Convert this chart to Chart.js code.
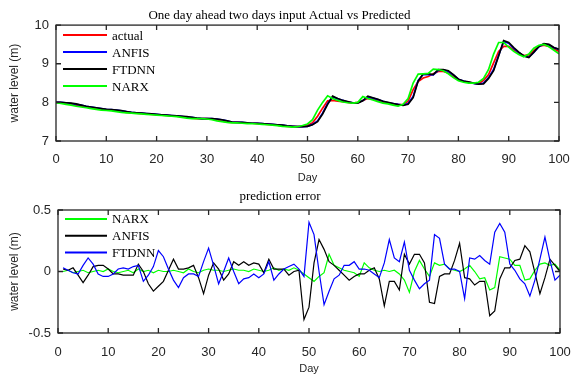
<!DOCTYPE html>
<html>
<head>
<meta charset="utf-8">
<script src="https://cdn.jsdelivr.net/npm/chart.js@4.4.1/dist/chart.umd.min.js"></script>
<style>
    body { margin: 0; background: #fff; }
    #wrap { position: relative; width: 572px; height: 376px; overflow: hidden; }
    canvas { position: absolute; left: 0; }
    #topChart { top: 0; }
    #errChart { top: 180px; }
</style>
</head>
<body>
<div id="wrap">
    <canvas id="topChart" width="572" height="186"></canvas>
    <canvas id="errChart" width="572" height="196"></canvas>
</div>
<script>
// DATA

const days = [
    0, 1, 2, 3, 4, 5, 6, 7, 8, 9, 10, 11, 12, 13, 14, 15, 16, 17, 18, 19,
    20, 21, 22, 23, 24, 25, 26, 27, 28, 29, 30, 31, 32, 33, 34, 35, 36, 37, 38, 39,
    40, 41, 42, 43, 44, 45, 46, 47, 48, 49, 50, 51, 52, 53, 54, 55, 56, 57, 58, 59,
    60, 61, 62, 63, 64, 65, 66, 67, 68, 69, 70, 71, 72, 73, 74, 75, 76, 77, 78, 79,
    80, 81, 82, 83, 84, 85, 86, 87, 88, 89, 90, 91, 92, 93, 94, 95, 96, 97, 98, 99, 100
];

const actual = [
    8.00, 7.99, 7.98, 7.96, 7.93, 7.90, 7.88, 7.86, 7.84, 7.82,
    7.81, 7.80, 7.79, 7.76, 7.74, 7.73, 7.72, 7.71, 7.70, 7.69,
    7.68, 7.67, 7.66, 7.65, 7.64, 7.63, 7.61, 7.59, 7.58, 7.58,
    7.58, 7.57, 7.55, 7.52, 7.49, 7.48, 7.48, 7.47, 7.46, 7.46,
    7.45, 7.44, 7.43, 7.42, 7.41, 7.39, 7.38, 7.37, 7.37, 7.38,
    7.40, 7.47, 7.64, 7.85, 8.04, 8.05, 8.03, 8.02, 8.00, 7.98,
    8.00, 8.05, 8.10, 8.09, 8.04, 8.01, 7.98, 7.96, 7.94, 7.94,
    8.03, 8.33, 8.54, 8.63, 8.67, 8.74, 8.80, 8.80, 8.76, 8.67,
    8.59, 8.54, 8.52, 8.50, 8.48, 8.57, 8.72, 9.02, 9.32, 9.45,
    9.45, 9.36, 9.28, 9.21, 9.23, 9.34, 9.45, 9.48, 9.45, 9.38, 9.32
];

const anfis = [
    8.00, 8.00, 7.99, 7.97, 7.95, 7.93, 7.90, 7.88, 7.86, 7.84,
    7.82, 7.81, 7.80, 7.78, 7.76, 7.74, 7.73, 7.72, 7.71, 7.70,
    7.69, 7.68, 7.67, 7.66, 7.65, 7.64, 7.62, 7.61, 7.59, 7.58,
    7.58, 7.58, 7.57, 7.55, 7.52, 7.49, 7.48, 7.48, 7.47, 7.46,
    7.46, 7.45, 7.44, 7.43, 7.42, 7.41, 7.39, 7.38, 7.37, 7.37,
    7.38, 7.43, 7.52, 7.72, 7.97, 8.14, 8.09, 8.05, 8.01, 7.99,
    7.99, 8.05, 8.14, 8.11, 8.07, 8.03, 7.99, 7.97, 7.95, 7.93,
    7.97, 8.15, 8.57, 8.72, 8.72, 8.71, 8.83, 8.84, 8.80, 8.71,
    8.60, 8.55, 8.52, 8.49, 8.47, 8.50, 8.64, 8.85, 9.22, 9.57,
    9.53, 9.40, 9.29, 9.20, 9.17, 9.29, 9.44, 9.51, 9.49, 9.41, 9.38
];

const ftdnn = [
    8.00, 8.00, 7.99, 7.98, 7.96, 7.93, 7.90, 7.88, 7.86, 7.84,
    7.82, 7.81, 7.80, 7.79, 7.76, 7.74, 7.73, 7.72, 7.71, 7.70,
    7.69, 7.68, 7.67, 7.66, 7.65, 7.64, 7.63, 7.61, 7.59, 7.58,
    7.58, 7.58, 7.57, 7.55, 7.52, 7.49, 7.48, 7.48, 7.47, 7.46,
    7.46, 7.45, 7.44, 7.43, 7.42, 7.41, 7.39, 7.38, 7.37, 7.37,
    7.38, 7.42, 7.50, 7.70, 7.95, 8.16, 8.10, 8.05, 8.02, 7.99,
    7.98, 8.04, 8.16, 8.12, 8.08, 8.03, 8.00, 7.97, 7.94, 7.92,
    7.95, 8.12, 8.55, 8.74, 8.74, 8.72, 8.85, 8.85, 8.82, 8.72,
    8.60, 8.55, 8.53, 8.50, 8.47, 8.48, 8.62, 8.82, 9.20, 9.60,
    9.55, 9.42, 9.30, 9.20, 9.16, 9.30, 9.45, 9.52, 9.50, 9.42, 9.37
];

const narx = [
    7.99, 7.97, 7.95, 7.93, 7.90, 7.88, 7.86, 7.84, 7.82, 7.80,
    7.79, 7.78, 7.76, 7.74, 7.73, 7.72, 7.71, 7.70, 7.69, 7.68,
    7.67, 7.66, 7.65, 7.64, 7.63, 7.61, 7.59, 7.58, 7.58, 7.58,
    7.57, 7.55, 7.52, 7.50, 7.48, 7.47, 7.47, 7.46, 7.45, 7.45,
    7.44, 7.43, 7.42, 7.41, 7.40, 7.38, 7.37, 7.36, 7.37, 7.40,
    7.44, 7.55, 7.80, 8.00, 8.17, 8.10, 8.05, 8.01, 7.99, 7.98,
    8.00, 8.15, 8.10, 8.06, 8.02, 7.98, 7.96, 7.93, 7.90, 7.95,
    8.10, 8.50, 8.73, 8.74, 8.75, 8.86, 8.85, 8.82, 8.74, 8.64,
    8.56, 8.52, 8.50, 8.50, 8.52, 8.62, 8.85, 9.25, 9.55, 9.55,
    9.43, 9.32, 9.24, 9.18, 9.25, 9.40, 9.48, 9.50, 9.44, 9.35, 9.26
];

// prediction error, days 1..100
const errDays = days.slice(1);

const narxErr = [
    0.00, 0.01, -0.01, 0.00, 0.01, -0.01, 0.00, 0.01, 0.00, 0.02,
    0.00, -0.01, 0.00, 0.01, -0.01, 0.02, 0.00, 0.01, -0.01, 0.01,
    0.00, 0.00, 0.01, 0.00, -0.01, 0.02, 0.00, -0.01, 0.01, 0.02,
    0.01, 0.01, 0.00, 0.01, 0.02, 0.01, 0.01, 0.00, 0.02, 0.01,
    0.00, 0.01, 0.03, 0.01, 0.02, 0.01, 0.03, 0.01, -0.02, -0.05,
    -0.08, -0.04, -0.01, 0.14, 0.05, 0.03, 0.01, 0.00, -0.01, -0.04,
    0.07, 0.03, 0.01, 0.00, 0.01, 0.00, 0.01, -0.02, -0.07, -0.17,
    0.00, 0.09, 0.02, -0.04, 0.07, 0.05, 0.06, 0.02, 0.01, 0.00,
    0.02, 0.05, 0.00, -0.06, -0.05, -0.15, -0.13, 0.12, 0.11, 0.10,
    0.05, 0.05, -0.07, -0.06, 0.01, 0.06, 0.07, 0.05, 0.06, 0.01
];

const anfisErr = [
    0.02, 0.01, 0.03, -0.03, -0.09, -0.03, 0.04, 0.05, 0.05, 0.02,
    -0.02, -0.02, -0.03, -0.03, -0.03, 0.06, 0.00, -0.10, -0.16, -0.12,
    -0.08, 0.01, 0.10, 0.02, 0.02, 0.03, 0.05, -0.05, -0.18, -0.03,
    0.07, 0.02, -0.07, -0.02, 0.08, 0.05, 0.08, 0.05, 0.07, 0.06,
    -0.01, 0.10, 0.02, 0.02, 0.02, -0.03, 0.00, 0.01, -0.39, -0.29,
    0.07, 0.26, 0.18, 0.08, 0.05, 0.01, -0.03, -0.07, -0.04, -0.02,
    -0.02, 0.01, 0.03, -0.06, -0.28, -0.08, -0.08, -0.15, 0.14, 0.06,
    0.14, 0.14, 0.07, -0.25, -0.26, -0.04, -0.02, -0.02, 0.09, 0.23,
    -0.05, -0.06, -0.11, -0.08, -0.08, -0.36, -0.32, -0.06, 0.03, 0.03,
    0.09, 0.10, 0.21, 0.16, -0.01, -0.18, -0.05, 0.10, 0.05, 0.00
];

const ftdnnErr = [
    0.03, 0.01, -0.01, -0.02, 0.05, 0.11, 0.06, -0.02, -0.04, -0.04,
    -0.02, 0.02, 0.03, 0.02, 0.04, 0.05, -0.08, -0.03, 0.04, 0.17,
    0.12, 0.02, -0.07, -0.13, -0.05, -0.02, -0.02, -0.04, 0.08, 0.19,
    0.05, -0.10, 0.00, 0.11, 0.00, -0.10, -0.06, -0.05, -0.02, -0.05,
    -0.02, 0.08, -0.07, -0.02, 0.02, 0.04, 0.06, 0.02, -0.04, 0.40,
    0.30, 0.00, -0.27, -0.16, -0.06, -0.03, 0.05, 0.05, 0.08, 0.02,
    0.02, 0.01, -0.02, -0.05, 0.07, 0.26, 0.11, 0.08, 0.24, 0.01,
    -0.07, -0.14, -0.10, -0.07, 0.30, 0.27, 0.06, 0.02, 0.02, 0.00,
    -0.22, 0.11, 0.10, 0.13, 0.09, 0.06, 0.32, 0.39, 0.32, 0.06,
    0.01, -0.06, -0.10, -0.20, -0.07, 0.10, 0.28, 0.09, -0.07, -0.03
];

const xTicksTop = [0, 100, 10];
const yTicksTop = [7, 10, 1];
const yTicksErr = [-0.5, 0.5, 0.5];

// PLUGINS

const toPoints = (xs, ys) => ys.map((v, i) => ({x: xs[i], y: v}));

// box around the plot with inward tick marks (matlab look)
const frame = {
    id: 'frame',
    afterDatasetsDraw(chart) {
        const {ctx, chartArea: a, scales: {x, y}} = chart;
        ctx.save();
        ctx.strokeStyle = '#262626';
        ctx.lineWidth = 1.3;
        ctx.strokeRect(a.left, a.top, a.right - a.left, a.bottom - a.top);
        ctx.beginPath();
        x.ticks.forEach(t => {
            const px = x.getPixelForValue(t.value);
            ctx.moveTo(px, a.bottom); ctx.lineTo(px, a.bottom - 5);
            ctx.moveTo(px, a.top); ctx.lineTo(px, a.top + 5);
        });
        y.ticks.forEach(t => {
            const py = y.getPixelForValue(t.value);
            ctx.moveTo(a.left, py); ctx.lineTo(a.left + 5, py);
            ctx.moveTo(a.right, py); ctx.lineTo(a.right - 5, py);
        });
        ctx.stroke();
        ctx.restore();
    }
};

// legend inside the plot, line + label
const lineLegend = {
    id: 'lineLegend',
    afterDraw(chart, args, opts) {
        const {ctx, chartArea: a} = chart;
        ctx.save();
        ctx.font = '13px "Liberation Serif"';
        ctx.textBaseline = 'middle';
        ctx.fillStyle = '#000';
        chart.data.datasets.forEach((ds, i) => {
            const yy = a.top + opts.top + i * opts.gap;
            const x0 = a.left + opts.left;
            ctx.strokeStyle = ds.borderColor;
            ctx.lineWidth = 2;
            ctx.beginPath();
            ctx.moveTo(x0, yy);
            ctx.lineTo(x0 + opts.len, yy);
            ctx.stroke();
            ctx.fillText(ds.label, x0 + opts.len + 5, yy + 1);
        });
        ctx.restore();
    }
};

const tickFont = {family: 'Liberation Sans', size: 13};

// GRAPH ACTUAL VS PREDICTED

const dataTop = {
    datasets: [
        {label: 'actual', data: toPoints(days, actual), borderColor: '#ff0000', order: 3},
        {label: 'ANFIS', data: toPoints(days, anfis), borderColor: '#0000ff', order: 2},
        {label: 'FTDNN', data: toPoints(days, ftdnn), borderColor: '#000000', order: 1},
        {label: 'NARX', data: toPoints(days, narx), borderColor: '#00ff00', order: 0}
    ]
};

const configTop = {
    type: 'line',
    data: dataTop,
    options: {
        responsive: false,
        animation: false,
        devicePixelRatio: 1,
        layout: {padding: {left: 0, right: 13, top: 0, bottom: 0}},
        elements: {
            point: {radius: 0},
            line: {borderWidth: 1.7, tension: 0}
        },
        scales: {
            x: {
                type: 'linear',
                min: xTicksTop[0], max: xTicksTop[1],
                ticks: {stepSize: xTicksTop[2], padding: 0, font: tickFont, color: '#262626'},
                grid: {display: false, drawTicks: true, tickLength: 11},
                border: {display: false},
                title: {display: true, text: 'Day', color: '#262626',
                        font: {family: 'Liberation Sans', size: 11}, padding: {top: 0, bottom: 1}},
                afterFit(s) { s.height = 45; }
            },
            y: {
                min: yTicksTop[0], max: yTicksTop[1],
                ticks: {stepSize: yTicksTop[2], padding: 7, font: tickFont, color: '#262626'},
                grid: {display: false, drawTicks: false},
                border: {display: false},
                title: {display: true, text: 'water level (m)', color: '#262626',
                        font: {family: 'Liberation Sans', size: 12}, padding: {top: 7, bottom: 0}},
                afterFit(s) { s.width = 56; }
            }
        },
        plugins: {
            legend: {display: false},
            tooltip: {enabled: false},
            title: {
                display: true,
                text: 'One day ahead two days input Actual vs Predicted',
                color: '#000',
                font: {family: 'Liberation Serif', size: 13, weight: 'normal'},
                padding: {top: 8, bottom: 1.5}
            },
            lineLegend: {left: 7, top: 10, gap: 17, len: 44}
        }
    },
    plugins: [frame, lineLegend]
};

const myChart = new Chart(document.getElementById('topChart'), configTop);

// GRAPH PREDICTION ERROR

const dataErr = {
    datasets: [
        {label: 'NARX', data: toPoints(errDays, narxErr), borderColor: '#00ff00', order: 2},
        {label: 'ANFIS', data: toPoints(errDays, anfisErr), borderColor: '#000000', order: 1},
        {label: 'FTDNN', data: toPoints(errDays, ftdnnErr), borderColor: '#0000ff', order: 0}
    ]
};

const configErr = {
    type: 'line',
    data: dataErr,
    options: {
        responsive: false,
        animation: false,
        devicePixelRatio: 1,
        layout: {padding: {left: 0, right: 12, top: 0, bottom: 0}},
        elements: {
            point: {radius: 0},
            line: {borderWidth: 1.2, tension: 0}
        },
        scales: {
            x: {
                type: 'linear',
                min: xTicksTop[0], max: xTicksTop[1],
                ticks: {stepSize: xTicksTop[2], padding: 0, font: tickFont, color: '#262626'},
                grid: {display: false, drawTicks: true, tickLength: 12},
                border: {display: false},
                title: {display: true, text: 'Day', color: '#262626',
                        font: {family: 'Liberation Sans', size: 11}, padding: {top: 0, bottom: 0}},
                afterFit(s) { s.height = 43; }
            },
            y: {
                min: yTicksErr[0], max: yTicksErr[1],
                ticks: {stepSize: yTicksErr[2], padding: 7, font: tickFont, color: '#262626'},
                grid: {display: false, drawTicks: false},
                border: {display: false},
                title: {display: true, text: 'water level (m)', color: '#262626',
                        font: {family: 'Liberation Sans', size: 12}, padding: {top: 7, bottom: 0}},
                afterFit(s) { s.width = 58; }
            }
        },
        plugins: {
            legend: {display: false},
            tooltip: {enabled: false},
            title: {
                display: true,
                text: 'prediction error',
                color: '#000',
                font: {family: 'Liberation Serif', size: 13, weight: 'normal'},
                padding: {top: 9, bottom: 5.4}
            },
            lineLegend: {left: 7, top: 9, gap: 16.7, len: 42}
        }
    },
    plugins: [frame, lineLegend]
};

const myChart2 = new Chart(document.getElementById('errChart'), configErr);
</script>
</body>
</html>
